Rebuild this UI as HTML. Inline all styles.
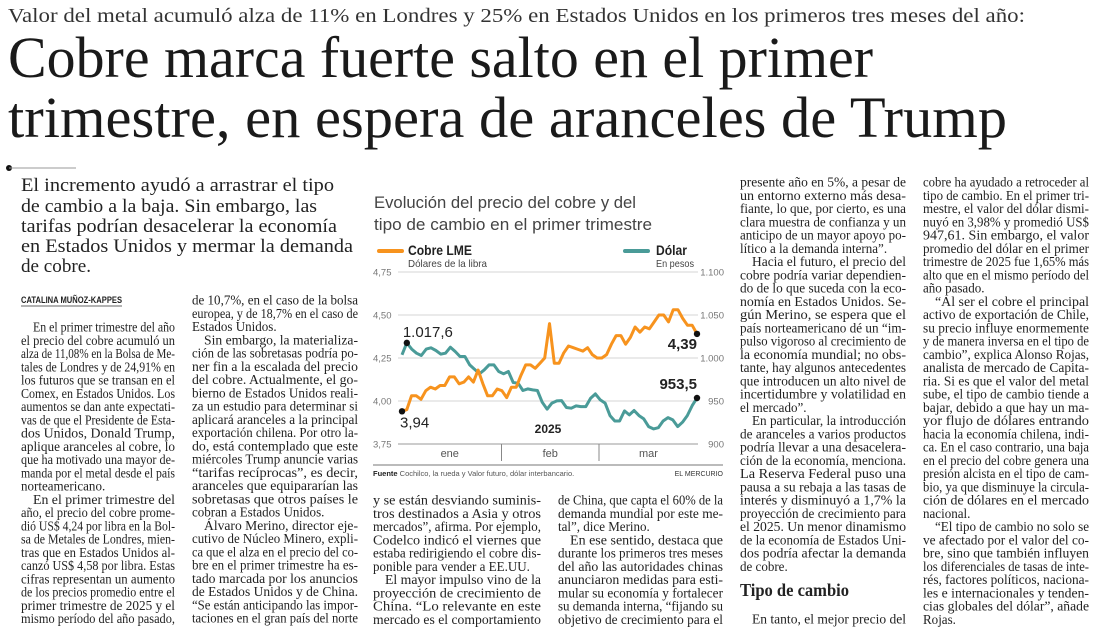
<!DOCTYPE html>
<html><head><meta charset="utf-8"><title>Cobre marca fuerte salto</title>
<style>
html,body{margin:0;padding:0;background:#fff;}
svg{display:block;}
.serif{font-family:"Liberation Serif",serif;}
.sans{font-family:"Liberation Sans",sans-serif;}
</style></head>
<body>
<svg id="page" width="1100" height="634" viewBox="0 0 1100 634" xmlns="http://www.w3.org/2000/svg">
  <rect width="1100" height="634" fill="#fff"/>
  <text class="serif" x="8" y="22" font-size="20.5" fill="#333" textLength="1017" lengthAdjust="spacingAndGlyphs">Valor del metal acumuló alza de 11% en Londres y 25% en Estados Unidos en los primeros tres meses del año:</text>
  <text class="serif" x="8" y="77" font-size="58" fill="#1a1a1a" textLength="865" lengthAdjust="spacingAndGlyphs">Cobre marca fuerte salto en el primer</text>
  <text class="serif" x="8" y="137" font-size="58" fill="#1a1a1a" textLength="999" lengthAdjust="spacingAndGlyphs">trimestre, en espera de aranceles de Trump</text>

  <circle cx="9" cy="168" r="3" fill="#111"/>
  <line x1="9" y1="168" x2="76" y2="168" stroke="#999" stroke-width="1"/>
  <g class="serif" font-size="19" fill="#222">
    <text x="21" y="191" textLength="313" lengthAdjust="spacingAndGlyphs">El incremento ayudó a arrastrar el tipo</text>
    <text x="21" y="212" textLength="296" lengthAdjust="spacingAndGlyphs">de cambio a la baja. Sin embargo, las</text>
    <text x="21" y="232" textLength="316" lengthAdjust="spacingAndGlyphs">tarifas podrían desacelerar la economía</text>
    <text x="21" y="252" textLength="332" lengthAdjust="spacingAndGlyphs">en Estados Unidos y mermar la demanda</text>
    <text x="21" y="272" textLength="70" lengthAdjust="spacingAndGlyphs">de cobre.</text>
  </g>
  <text class="sans" x="21" y="303" font-size="9" font-weight="bold" fill="#222" textLength="101" lengthAdjust="spacingAndGlyphs">CATALINA MUÑOZ-KAPPES</text>
  <line x1="21" y1="306" x2="122" y2="306" stroke="#333" stroke-width="0.8"/>
  <text class="serif" x="740" y="596" font-size="18" font-weight="bold" fill="#222" textLength="109" lengthAdjust="spacingAndGlyphs">Tipo de cambio</text>
  <g id="body" class="serif" font-size="14" fill="#222"></g>

  <g id="chart">
    <text class="sans" x="374" y="208" font-size="17" fill="#444" textLength="262" lengthAdjust="spacingAndGlyphs">Evolución del precio del cobre y del</text>
    <text class="sans" x="374" y="230" font-size="17" fill="#444" textLength="278" lengthAdjust="spacingAndGlyphs">tipo de cambio en el primer trimestre</text>
    <g>
      <line x1="379" y1="251" x2="402" y2="251" stroke="#f7931e" stroke-width="4" stroke-linecap="round"/>
      <text class="sans" x="408" y="255" font-size="14" font-weight="bold" fill="#222" textLength="64" lengthAdjust="spacingAndGlyphs">Cobre LME</text>
      <text class="sans" x="408" y="267" font-size="10.5" fill="#444" textLength="79" lengthAdjust="spacingAndGlyphs">Dólares de la libra</text>
    </g>
    <g>
      <line x1="625" y1="251" x2="648" y2="251" stroke="#4a9b98" stroke-width="4" stroke-linecap="round"/>
      <text class="sans" x="656" y="255" font-size="14" font-weight="bold" fill="#222" textLength="31" lengthAdjust="spacingAndGlyphs">Dólar</text>
      <text class="sans" x="656" y="267" font-size="10.5" fill="#444" textLength="38" lengthAdjust="spacingAndGlyphs">En pesos</text>
    </g>
    <g id="grid"></g>
    <g id="axes"></g>
    <g id="series"></g>
    <text class="sans" x="548" y="433" font-size="12" font-weight="bold" fill="#222" text-anchor="middle">2025</text>
    <line x1="373" y1="465" x2="723" y2="465" stroke="#777" stroke-width="1"/>
    <text class="sans" x="373" y="476" font-size="7.5" fill="#555"><tspan font-weight="bold" fill="#222">Fuente</tspan>  Cochilco, la rueda y Valor futuro, dólar interbancario.</text>
    <text class="sans" x="723" y="476" font-size="7" fill="#333" text-anchor="end">EL MERCURIO</text>
  </g>
</svg>
<script>
// ---- chart data ----
const copperValues = [3.94,3.95,4.03,4.03,4.01,4.06,4.08,4.07,4.09,4.09,4.14,4.14,4.10,4.11,4.14,4.11,4.18,4.10,4.03,4.03,4.07,4.06,4.02,4.08,4.08,4.15,4.21,4.21,4.19,4.22,4.25,4.45,4.22,4.22,4.28,4.32,4.31,4.30,4.29,4.31,4.27,4.25,4.25,4.27,4.33,4.38,4.38,4.33,4.37,4.43,4.40,4.43,4.42,4.46,4.50,4.50,4.46,4.53,4.53,4.48,4.44,4.44,4.39];
const dollarValues = [1003.7,1017.6,1010.3,1005.6,1002.9,1010.3,1011.9,1008.7,1004.5,1005.6,1012.6,1007.6,1001.8,1001.8,992.0,987.0,981.6,986.2,992.0,992.0,984.3,981.6,984.3,971.5,970.7,962.2,964.1,962.9,962.2,948.6,940.5,947.5,950.1,950.5,942.4,941.6,944.3,943.5,943.5,953.2,958.3,951.3,947.5,933.0,926.8,926.8,938.5,933.8,938.9,933.0,929.2,920.2,917.5,919.0,926.8,930.7,928.0,920.2,925.3,933.0,944.7,953.5];
const copperTicks = [3.75,4.00,4.25,4.50,4.75];
const copperTickLabels = ["3,75","4,00","4,25","4,50","4,75"];
const dollarTicks = [900,950,1000,1050,1100];
const dollarTickLabels = ["900","950","1.000","1.050","1.100"];
const months = ["ene","feb","mar"];
const monthBounds = [0,0.345,0.67,1];
const annotations = [
  {series:"dollar", idx:1, label:"1.017,6", bold:false, dx:-4, dy:-6, anchor:"start"},
  {series:"copper", idx:0, label:"3,94", bold:false, dx:-2, dy:16, anchor:"start"},
  {series:"copper", idx:62, label:"4,39", bold:true, dx:0, dy:15, anchor:"end"},
  {series:"dollar", idx:61, label:"953,5", bold:true, dx:0, dy:-9, anchor:"end"}
];
// ---- scales ----
const NS="http://www.w3.org/2000/svg";
const plotL=398, plotR=698, dataL=402, dataR=697, yTop=272, yBot=444;
function yCu(v){return yBot-(v-3.75)/1.0*(yBot-yTop);}
function yUsd(v){return yBot-(v-900)/200*(yBot-yTop);}
function xIdx(i,n){return dataL+i/(n-1)*(dataR-dataL);}
function mk(tag,attrs,parent){const e=document.createElementNS(NS,tag);for(const k in attrs)e.setAttribute(k,attrs[k]);parent.appendChild(e);return e;}
const grid=document.getElementById('grid'), axes=document.getElementById('axes'), series=document.getElementById('series');
copperTicks.forEach((t,i)=>{
  const y=yCu(t);
  const gl=mk('line',{x1:plotL,x2:plotR,y1:y,y2:y,stroke:i===0?'#999':'#d4d4d4','stroke-width':1},grid);
  
  
  const tl=mk('text',{x:373,y:y+3.5,'font-size':9.5,fill:'#777','font-family':'Liberation Sans, sans-serif'},axes);
  tl.textContent=copperTickLabels[i];
  
  
});
dollarTicks.forEach((t,i)=>{
  const tl=mk('text',{x:724,y:yUsd(t)+3.5,'font-size':9.5,fill:'#777','font-family':'Liberation Sans, sans-serif','text-anchor':'end'},axes);
  tl.textContent=dollarTickLabels[i];
  
  
});
months.forEach((m,i)=>{
  const x0=plotL+monthBounds[i]*(plotR-plotL), x1=plotL+monthBounds[i+1]*(plotR-plotL);
  const t=mk('text',{x:(x0+x1)/2,y:457,'font-size':11,fill:'#555','font-family':'Liberation Sans, sans-serif','text-anchor':'middle'},axes);
  t.textContent=m;
  
  
  if(i>0){
    const d=mk('line',{x1:x0,x2:x0,y1:444,y2:461,stroke:'#888','stroke-width':1},axes);
    
    
  }
});
function pathFor(vals,sc){return vals.map((v,i)=>(i?'L':'M')+xIdx(i,vals.length).toFixed(1)+' '+sc(v).toFixed(1)).join(' ');}
const pu=mk('path',{d:pathFor(dollarValues,yUsd),fill:'none',stroke:'#4a9b98','stroke-width':3,'stroke-linejoin':'round'},series);


const pc=mk('path',{d:pathFor(copperValues,yCu),fill:'none',stroke:'#f7931e','stroke-width':3,'stroke-linejoin':'round'},series);


annotations.forEach(a=>{
  const vals=a.series==='copper'?copperValues:dollarValues, sc=a.series==='copper'?yCu:yUsd;
  const x=xIdx(a.idx,vals.length), y=sc(vals[a.idx]);
  const c=mk('circle',{cx:x,cy:y,r:3.2,fill:'#111'},series);
  
  
  const t=mk('text',{x:x+a.dx,y:y+a.dy,'font-size':15,fill:'#222','font-family':'Liberation Sans, sans-serif','text-anchor':a.anchor,'font-weight':a.bold?'bold':'normal'},series);
  t.textContent=a.label;
  
  
});

// ---- article body ----
const cols=[
 {x:21,w:154,y:327,lines:[">En el primer trimestre del año","el precio del cobre acumuló un","alza de 11,08% en la Bolsa de Me-","tales de Londres y de 24,91% en","los futuros que se transan en el","Comex, en Estados Unidos. Los","aumentos se dan ante expectati-","vas de que el Presidente de Esta-","dos Unidos, Donald Trump,","aplique aranceles al cobre, lo","que ha motivado una mayor de-","manda por el metal desde el país","norteamericano.|",">En el primer trimestre del","año, el precio del cobre prome-","dió US$ 4,24 por libra en la Bol-","sa de Metales de Londres, mien-","tras que en Estados Unidos al-","canzó US$ 4,58 por libra. Estas","cifras representan un aumento","de los precios promedio entre el","primer trimestre de 2025 y el","mismo período del año pasado,"]},
 {x:192,w:166,y:300,lines:["de 10,7%, en el caso de la bolsa","europea, y de 18,7% en el caso de","Estados Unidos.|",">Sin embargo, la materializa-","ción de las sobretasas podría po-","ner fin a la escalada del precio","del cobre. Actualmente, el go-","bierno de Estados Unidos reali-","za un estudio para determinar si","aplicará aranceles a la principal","exportación chilena. Por otro la-","do, está contemplado que este","miércoles Trump anuncie varias","“tarifas recíprocas”, es decir,","aranceles que equipararían las","sobretasas que otros países le","cobran a Estados Unidos.|",">Álvaro Merino, director eje-","cutivo de Núcleo Minero, expli-","ca que el alza en el precio del co-","bre en el primer trimestre ha es-","tado marcada por los anuncios","de Estados Unidos y de China.","“Se están anticipando las impor-","taciones en el gran país del norte"]},
 {x:373,w:168,y:500,lines:["y se están desviando suminis-","tros destinados a Asia y otros","mercados”, afirma. Por ejemplo,","Codelco indicó el viernes que","estaba redirigiendo el cobre dis-","ponible para vender a EE.UU.|",">El mayor impulso vino de la","proyección de crecimiento de","China. “Lo relevante en este","mercado es el comportamiento"]},
 {x:558,w:165,y:500,lines:["de China, que capta el 60% de la","demanda mundial por este me-","tal”, dice Merino.|",">En ese sentido, destaca que","durante los primeros tres meses","del año las autoridades chinas","anunciaron medidas para esti-","mular su economía y fortalecer","su demanda interna, “fijando su","objetivo de crecimiento para el"]},
 {x:740,w:166,y:182,lines:["presente año en 5%, a pesar de","un entorno externo más desa-","fiante, lo que, por cierto, es una","clara muestra de confianza y un","anticipo de un mayor apoyo po-","lítico a la demanda interna”.|",">Hacia el futuro, el precio del","cobre podría variar dependien-","do de lo que suceda con la eco-","nomía en Estados Unidos. Se-","gún Merino, se espera que el","país norteamericano dé un “im-","pulso vigoroso al crecimiento de","la economía mundial; no obs-","tante, hay algunos antecedentes","que introducen un alto nivel de","incertidumbre y volatilidad en","el mercado”.|",">En particular, la introducción","de aranceles a varios productos","podría llevar a una desacelera-","ción de la economía, menciona.","La Reserva Federal puso una","pausa a su rebaja a las tasas de","interés y disminuyó a 1,7% la","proyección de crecimiento para","el 2025. Un menor dinamismo","de la economía de Estados Uni-","dos podría afectar la demanda","de cobre.|"]},
 {x:740,w:166,y:619,lines:[">En tanto, el mejor precio del"]},
 {x:923,w:166,y:182,lines:["cobre ha ayudado a retroceder al","tipo de cambio. En el primer tri-","mestre, el valor del dólar dismi-","nuyó en 3,98% y promedió US$","947,61. Sin embargo, el valor","promedio del dólar en el primer","trimestre de 2025 fue 1,65% más","alto que en el mismo período del","año pasado.|",">“Al ser el cobre el principal","activo de exportación de Chile,","su precio influye enormemente","y de manera inversa en el tipo de","cambio”, explica Alonso Rojas,","analista de mercado de Capita-","ria. Si es que el valor del metal","sube, el tipo de cambio tiende a","bajar, debido a que hay un ma-","yor flujo de dólares entrando","hacia la economía chilena, indi-","ca. En el caso contrario, una baja","en el precio del cobre genera una","presión alcista en el tipo de cam-","bio, ya que disminuye la circula-","ción de dólares en el mercado","nacional.|",">“El tipo de cambio no solo se","ve afectado por el valor del co-","bre, sino que también influyen","los diferenciales de tasas de inte-","rés, factores políticos, naciona-","les e internacionales y tenden-","cias globales del dólar”, añade","Rojas.|"]}
];
const body=document.getElementById('body');
const LH=13.25;
cols.forEach(col=>{
  col.lines.forEach((raw,i)=>{
    let s=raw, indent=0, last=false;
    if(s[0]==='>'){indent=12;s=s.slice(1);}
    if(s.endsWith('|')){last=true;s=s.slice(0,-1);}
    const t=document.createElementNS(NS,'text');
    t.setAttribute('x',col.x+indent);
    t.setAttribute('y',(col.y+i*LH+4.5).toFixed(1));
    t.textContent=s;
    
    
    body.appendChild(t);
    if(!last){
      t.setAttribute('textLength',col.w-indent);
      t.setAttribute('lengthAdjust','spacingAndGlyphs');
    } else {
      const w=t.getComputedTextLength();
      const target=Math.min(w*0.93,col.w-indent);
      t.setAttribute('textLength',target.toFixed(1));
      t.setAttribute('lengthAdjust','spacingAndGlyphs');
    }
  });
});
</script>
</body></html>
